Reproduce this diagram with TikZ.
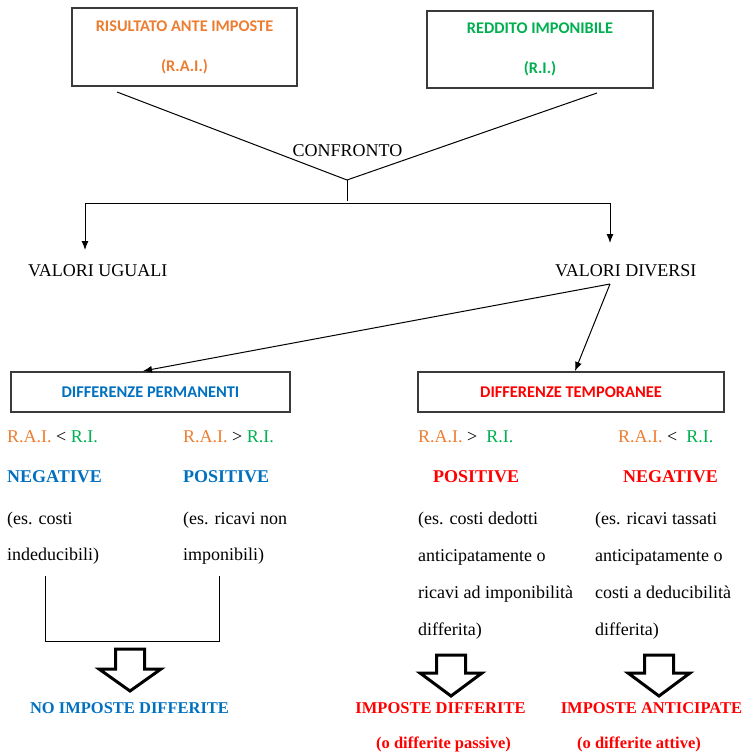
\documentclass[tikz,border=0pt]{standalone}
\usepackage{fontspec}
\setmainfont{Liberation Serif}
\newfontfamily\carlito{Carlito}
\usetikzlibrary{arrows.meta,calc}
\definecolor{raiorange}{HTML}{ED7D31}
\definecolor{rigreen}{HTML}{00B050}
\definecolor{permblue}{HTML}{0070C0}
\definecolor{tempred}{HTML}{FF0000}
\definecolor{boxline}{HTML}{3A3A3A}

% hollow block arrow pointing down: centre x, top y, shoulder y, tip y
\newcommand\blockdown[4]{%
  \draw[block] (#1-14.5,#2) -- (#1+14.5,#2) -- (#1+14.5,#3) -- (#1+31,#3)
    -- (#1,#4) -- (#1-31,#3) -- (#1-14.5,#3) -- cycle;}

\begin{document}
\begin{tikzpicture}[x=1pt,y=-1pt,
  box/.style={draw=boxline, line width=1.4pt, inner sep=0pt, align=center},
  boxtitle/.style={font=\carlito\bfseries\fontsize{16.3}{40}\selectfont},
  txt/.style={anchor=base west, inner sep=0pt, font=\fontsize{18}{22}\selectfont},
  headtxt/.style={txt, font=\bfseries\fontsize{18}{22}\selectfont},
  result/.style={anchor=base, inner sep=0pt, font=\bfseries\fontsize{16.5}{20}\selectfont},
  conn/.style={line width=1pt, black},
  arr/.style={conn, -{Latex[length=9pt,width=7pt]}},
  block/.style={line width=3pt, line join=miter, black}
]
\useasboundingbox (0,0) rectangle (742,752);

% the two amounts being compared
\node[box, boxtitle, text=raiorange, minimum width=225pt, minimum height=78pt]
  (rai) at (184.5,47) {RISULTATO ANTE IMPOSTE\\(R.A.I.)};
\node[box, boxtitle, text=rigreen, minimum width=226pt, minimum height=77pt]
  (ri) at (540,49.5) {REDDITO IMPONIBILE\\(R.I.)};

\node[txt, anchor=base] (conf) at (347.5,156) {CONFRONTO};

\coordinate (raifoot) at (117,92);
\coordinate (rifoot) at (597,93);
\coordinate (apex) at (347,180);
\coordinate (stem) at (347,201);
\coordinate (barL) at (85,203);
\coordinate (barR) at (610,203);
\coordinate (vutip) at (85,250);
\coordinate (vdtip) at (610,243);

\draw[conn] (raifoot) -- (apex) -- (rifoot);
\draw[conn] (apex) -- (stem);
\draw[conn] (barL) -- (barR);
\draw[arr] (barL) -- (vutip);
\draw[arr] (barR) -- (vdtip);

\node[txt] (vu) at (28,276) {VALORI UGUALI};
\node[txt] (vd) at (555,276) {VALORI DIVERSI};

% the two kinds of differences
\node[box, font=\carlito\bfseries\fontsize{16.4}{18}\selectfont, text=permblue,
  minimum width=279pt, minimum height=40pt] (dp) at (150.5,392) {DIFFERENZE PERMANENTI};
\node[box, font=\carlito\bfseries\fontsize{16.4}{18}\selectfont, text=tempred,
  minimum width=306pt, minimum height=40pt] (dt) at (571,392) {DIFFERENZE TEMPORANEE};

\coordinate (vdfoot) at (610,284);
\coordinate (dpin) at (143,371);
\coordinate (dtin) at (575,371);
\draw[arr] (vdfoot) -- (dpin);
\draw[arr] (vdfoot) -- (dtin);

% permanent differences
\node[txt] (pneg) at (7,442) {\textcolor{raiorange}{R.A.I.} < \textcolor{rigreen}{R.I.}};
\node[txt] (ppos) at (183,442) {\textcolor{raiorange}{R.A.I.} > \textcolor{rigreen}{R.I.}};
\node[headtxt, text=permblue] (pnegh) at (7,482) {NEGATIVE};
\node[headtxt, text=permblue] (pposh) at (183,482) {POSITIVE};
\node[txt] (pnegx1) at (7,524) {(es. costi};
\node[txt] (pnegx2) at (7,560) {indeducibili)};
\node[txt] (pposx1) at (183,524) {(es. ricavi non};
\node[txt] (pposx2) at (183,560) {imponibili)};

\coordinate (brL) at (45,576);
\coordinate (brR) at (219,576);
\draw[conn] (brL) -- (45,641) -- (219,641) -- (brR);

% temporary differences
\node[txt] (tpos) at (418,442) {\textcolor{raiorange}{R.A.I.} >\ \ \textcolor{rigreen}{R.I.}};
\node[txt] (tneg) at (618,442) {\textcolor{raiorange}{R.A.I.} <\ \ \textcolor{rigreen}{R.I.}};
\node[headtxt, text=tempred] (tposh) at (433,482) {POSITIVE};
\node[headtxt, text=tempred] (tnegh) at (623,482) {NEGATIVE};
\node[txt] (tposx1) at (418,524) {(es. costi dedotti};
\node[txt] (tposx2) at (418,561) {anticipatamente o};
\node[txt] (tposx3) at (418,598) {ricavi ad imponibilità};
\node[txt] (tposx4) at (418,635) {differita)};
\node[txt] (tnegx1) at (595,524) {(es. ricavi tassati};
\node[txt] (tnegx2) at (595,561) {anticipatamente o};
\node[txt] (tnegx3) at (595,598) {costi a deducibilità};
\node[txt] (tnegx4) at (595,635) {differita)};

% outcomes
\blockdown{130}{649}{669}{691}
\blockdown{451}{655}{673}{696}
\blockdown{659}{655}{673}{696}

\node[result, text=permblue] (noimp) at (129.5,713) {NO IMPOSTE DIFFERITE};
\node[result, text=tempred] (impdiff) at (440.5,713) {IMPOSTE DIFFERITE};
\node[result, text=tempred] (impant) at (651.5,713) {IMPOSTE ANTICIPATE};
\node[result, text=tempred] (passive) at (443.5,748) {(o differite passive)};
\node[result, text=tempred] (attive) at (639,748) {(o differite attive)};
\end{tikzpicture}
\end{document}
